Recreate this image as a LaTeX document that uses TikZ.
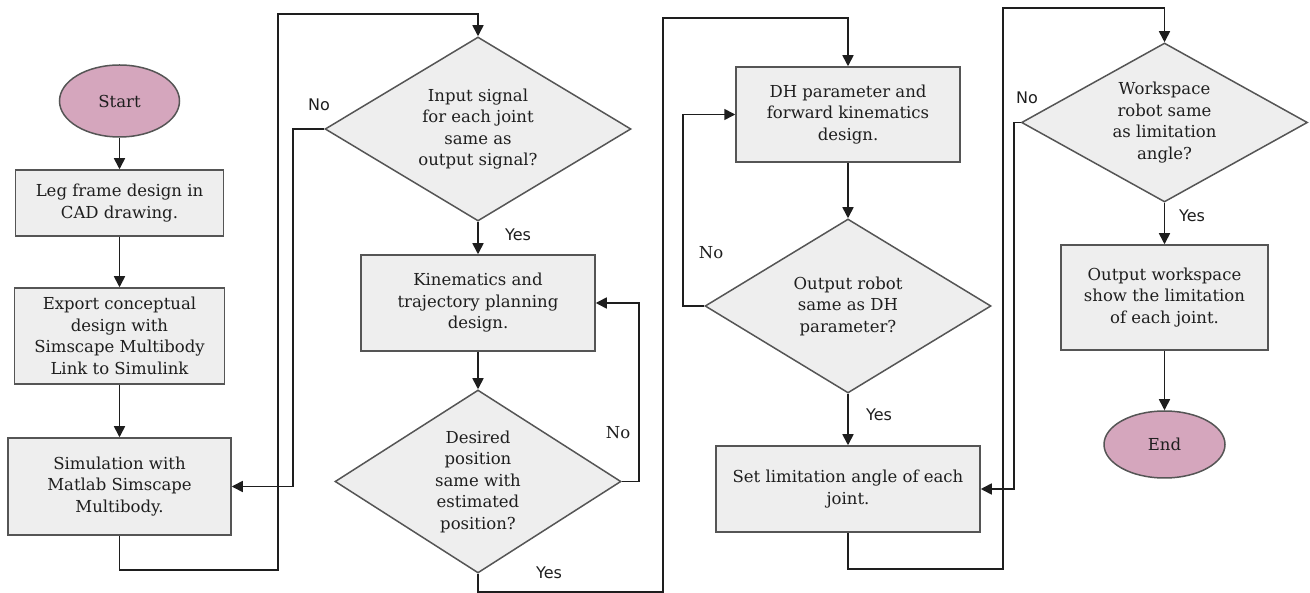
\documentclass[tikz,border=0pt]{standalone}
\usepackage{fontspec}
\setmainfont{DejaVu Serif}
\newfontfamily\lblsans{DejaVu Sans}
\usetikzlibrary{shapes.geometric,arrows.meta}
\definecolor{boxfill}{HTML}{EEEEEE}
\definecolor{boxline}{HTML}{555555}
\definecolor{termfill}{HTML}{D5A6BD}
\definecolor{ink}{HTML}{1E1E1E}
\tikzset{
  every node/.style={font=\fontsize{16.5}{21.5}\selectfont, text=ink},
  procbox/.style={rectangle, draw=boxline, fill=boxfill, line width=1.5pt, align=center, inner sep=0pt},
  term/.style={ellipse, draw=boxline, fill=termfill, line width=1.5pt, inner sep=0pt},
  dia/.style={diamond, draw=boxline, fill=boxfill, line width=1.5pt, inner sep=0pt},
  diatext/.style={align=center, font=\fontsize{16.5}{21.5}\selectfont},
  arr/.style={draw=ink, line width=1.6pt, -{Triangle[length=11pt,width=11pt]}},
  lbls/.style={font=\lblsans\fontsize{16}{18}\selectfont},
  lblr/.style={font=\fontsize{16.5}{18}\selectfont}
}
\begin{document}
\begin{tikzpicture}[x=1pt,y=-1pt]
\useasboundingbox (0,0) rectangle (1310,593);
% column 1
\node[term, minimum width=120pt, minimum height=72pt] (start) at (119.5,101) {Start};
\node[procbox, minimum width=208pt, minimum height=66pt] (b1) at (119.5,203) {Leg frame design in\\CAD drawing.};
\node[procbox, minimum width=210pt, minimum height=96pt] (b2) at (119.5,336) {Export conceptual\\design with\\Simscape Multibody\\Link to Simulink};
\node[procbox, minimum width=223pt, minimum height=97pt] (b3) at (119.5,486.5) {Simulation with\\Matlab Simscape\\Multibody.};
% column 2
\node[dia, minimum width=306pt, minimum height=184pt,
  label={[diatext]center:Input signal\\for each joint\\same as\\output signal?}] (d1) at (478,129) {};
\node[procbox, minimum width=234pt, minimum height=96pt] (b4) at (478,303) {Kinematics and\\trajectory planning\\design.};
\node[dia, minimum width=286pt, minimum height=183pt,
  label={[diatext]center:Desired\\position\\same with\\estimated\\position?}] (d2) at (478,481.5) {};
% column 3
\node[procbox, minimum width=224pt, minimum height=95pt] (b5) at (848,114.5) {DH parameter and\\forward kinematics\\design.};
\node[dia, minimum width=286pt, minimum height=174pt,
  label={[diatext]center:Output robot\\same as DH\\parameter?}] (d3) at (848,306) {};
\node[procbox, minimum width=264pt, minimum height=86pt] (b6) at (848,489) {Set limitation angle of each\\joint.};
% column 4
\node[dia, minimum width=286pt, minimum height=159pt,
  label={[diatext]center:Workspace\\robot same\\as limitation\\angle?}] (d4) at (1164.5,122.5) {};
\node[procbox, minimum width=207pt, minimum height=105pt] (b7) at (1164.5,297.5) {Output workspace\\show the limitation\\of each joint.};
\node[term, minimum width=121pt, minimum height=67pt] (end) at (1164.5,444.5) {End};
% connectors
\draw[arr] (start) -- (b1);
\draw[arr] (b1) -- (b2);
\draw[arr] (b2) -- (b3);
\draw[arr] (b3.south) -- ++(0,34) -| (278,14) -| (d1.north);
\draw[arr] (d1.west) -- ++(-31,0) |- (b3.east);
\draw[arr] (d1.south) -- (b4.north);
\draw[arr] (b4.south) -- (d2.north);
\draw[arr] (d2.east) -- ++(17,0) |- (b4.east);
\draw[arr] (d2.south) -- ++(0,18) -| (663,18) -| (b5.north);
\draw[arr] (b5.south) -- (d3.north);
\draw[arr] (d3.west) -- ++(-21,0) |- (b5.west);
\draw[arr] (d3.south) -- (b6.north);
\draw[arr] (b6.south) -- ++(0,36) -| (1003,8) -| (d4.north);
\draw[arr] (d4.west) -- ++(-7,0) |- (b6.east);
\draw[arr] (d4.south) -- (b7.north);
\draw[arr] (b7.south) -- (end.north);
% labels
\node[lbls] (no1) at (319,105) {No};
\node[lbls] (yes1) at (518,235) {Yes};
\node[lblr] (no2) at (618,433) {No};
\node[lbls] (yes2) at (549,573) {Yes};
\node[lblr] (no3) at (711,253) {No};
\node[lbls] (yes3) at (879,415) {Yes};
\node[lbls] (no4) at (1027,98) {No};
\node[lbls] (yes4) at (1192,216) {Yes};
\end{tikzpicture}
\end{document}
